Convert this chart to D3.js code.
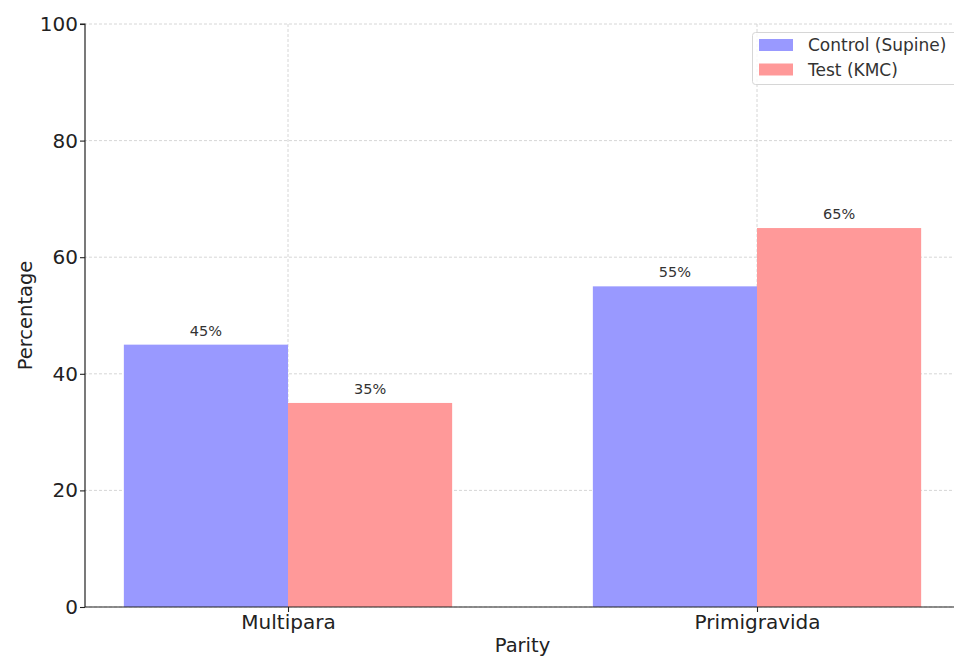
<!DOCTYPE html>
<html>
<head>
<meta charset="utf-8">
<script src="https://cdn.jsdelivr.net/npm/d3@7"></script>
<style>
  body { margin: 0; background: #fff; }
  svg { display: block; font-family: "DejaVu Sans", sans-serif; }
</style>
</head>
<body>
<svg id="chart" width="954" height="657"></svg>
<script>
// Parity distribution by group
const categories = ["Multipara", "Primigravida"];
const seriesNames = ["Control (Supine)", "Test (KMC)"];
const controlValues = [45, 55];
const testValues = [35, 65];
const yTicks = [0, 20, 40, 60, 80, 100];
const colors = ["#9999ff", "#ff9999"];

const svg = d3.select("#chart");
const plotLeft = 85, plotTop = 24, plotBottom = 607;
const unit = 469;            // pixels per category step
const x0 = 288;              // position of first category
const barW = 0.35;

const x = d3.scaleLinear().domain([-0.435, 1.435]).range([x0 - 0.435 * unit, x0 + 1.435 * unit]);
const y = d3.scaleLinear().domain([0, 100]).range([plotBottom, plotTop]);

const g = svg.append("g");

// grid lines
g.selectAll(".hgrid").data(yTicks).join("line")
  .attr("x1", x(-0.435)).attr("x2", x(1.435))
  .attr("y1", d => y(d)).attr("y2", d => y(d))
  .attr("stroke", "#cccccc").attr("stroke-width", 0.8).attr("stroke-dasharray", "3,2");
g.selectAll(".vgrid").data(categories).join("line")
  .attr("x1", (d, i) => x(i)).attr("x2", (d, i) => x(i))
  .attr("y1", y(0)).attr("y2", y(100))
  .attr("stroke", "#cccccc").attr("stroke-width", 0.8).attr("stroke-dasharray", "3,2");

// bars
const series = [controlValues, testValues];
series.forEach((vals, s) => {
  const off = s === 0 ? -barW / 2 : barW / 2;
  g.selectAll(".bar" + s).data(vals).join("rect")
    .attr("x", (d, i) => x(i + off - barW / 2))
    .attr("width", (d, i) => x(i + off + barW / 2) - x(i + off - barW / 2))
    .attr("y", d => y(d))
    .attr("height", d => y(0) - y(d))
    .attr("fill", colors[s]);
  g.selectAll(".lab" + s).data(vals).join("text")
    .attr("x", (d, i) => x(i + off))
    .attr("y", d => y(d) - 9)
    .attr("text-anchor", "middle")
    .attr("font-size", 14.5)
    .attr("fill", "#333")
    .text(d => d + "%");
});

// y axis
const yAxis = d3.axisLeft(y).tickValues(yTicks).tickSize(5).tickPadding(2);
const ya = svg.append("g").attr("transform", `translate(${plotLeft},0)`).call(yAxis);
ya.select(".domain").attr("stroke", "#222").attr("stroke-width", 1.2).attr("d", `M-5,${plotTop}H0V${plotBottom}`);
ya.selectAll(".tick line").attr("stroke", "#222").attr("stroke-width", 1.1);
ya.selectAll(".tick text").attr("font-size", 20).attr("fill", "#222").attr("font-family", "DejaVu Sans");

// x axis
const xa = svg.append("g").attr("transform", `translate(0,${plotBottom})`)
  .call(d3.axisBottom(x).tickValues([0, 1]).tickFormat(i => categories[i]).tickSize(5).tickPadding(3));
xa.select(".domain").attr("stroke", "#222").attr("stroke-width", 1.2).attr("d", `M${plotLeft},0H954`);
xa.selectAll(".tick line").attr("stroke", "#222").attr("stroke-width", 1.1);
xa.selectAll(".tick text").attr("font-size", 20).attr("fill", "#222").attr("font-family", "DejaVu Sans");

// axis titles
svg.append("text").attr("x", x(0.5)).attr("y", 652).attr("text-anchor", "middle")
  .attr("font-size", 19.5).attr("fill", "#222").text("Parity");
svg.append("text").attr("transform", `translate(32,${(plotTop + plotBottom) / 2}) rotate(-90)`)
  .attr("text-anchor", "middle").attr("font-size", 19.5).attr("fill", "#222").text("Percentage");

// legend
const lg = svg.append("g").attr("transform", "translate(752,32)");
lg.append("rect").attr("x", 0.5).attr("y", 0.5).attr("width", 205).attr("height", 52).attr("rx", 3)
  .attr("fill", "#fff").attr("fill-opacity", 0.8).attr("stroke", "#d6d6d6");
seriesNames.forEach((name, i) => {
  lg.append("rect").attr("x", 7).attr("y", 7 + i * 24.5).attr("width", 34).attr("height", 12).attr("fill", colors[i]);
  lg.append("text").attr("x", 56).attr("y", 19 + i * 24.5).attr("font-size", 17).attr("fill", "#333").text(name);
});
</script>
</body>
</html>
